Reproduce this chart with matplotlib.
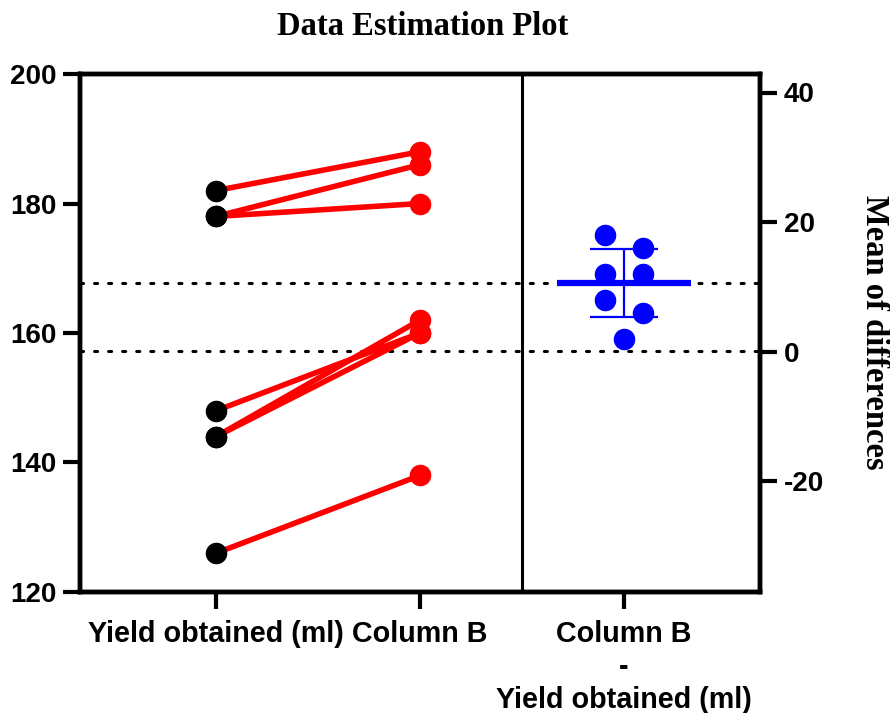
"""
Data Estimation Plot - pares antes/depois com diferenca media
"""

import matplotlib
matplotlib.use('Agg')
import matplotlib.pyplot as plt
import numpy as np

# Dados
grupos = ['Yield obtained (ml)', 'Column B']
rotulo_dif = 'Column B\n-\nYield obtained (ml)'
yield_obtido = [182, 178, 178, 148, 144, 144, 126]
coluna_b = [188, 186, 180, 160, 162, 160, 138]
ticks_esq = [120, 140, 160, 180, 200]
ticks_dir = [-20, 0, 20, 40]

# Estilo
SANS = 'Liberation Sans'
SERIF = 'Liberation Serif'
LW_EIXO = 3.2
VERMELHO = '#ff0000'
AZUL = '#0000ff'

a = np.array(yield_obtido, dtype=float)
b = np.array(coluna_b, dtype=float)
dif = b - a
media_a = a.mean()
media_b = b.mean()
media_dif = dif.mean()
# IC 95% da media das diferencas (t com 6 gl)
t_crit = 2.447
ic = t_crit * dif.std(ddof=1) / np.sqrt(len(dif))

fig = plt.figure(figsize=(8.9, 7.13), dpi=100)
ax = fig.add_axes([80/890, 1 - 592/713, 680/890, 518/713])
ax2 = ax.twinx()

ax.set_xlim(-2/3, 2 + 2/3)
ax.set_ylim(120, 200)
ax2.set_ylim(120 - media_a, 200 - media_a)

# linhas pontilhadas de referencia (media de cada grupo)
for yv in (media_a, media_b):
    ax.axhline(yv, color='black', lw=2.2, ls=(0, (1, 3.6)),
               dash_capstyle='round', zorder=1)

# divisoria
ax.axvline(1.5, color='black', lw=2.2, zorder=2)

# pares
for ya, yb in zip(a, b):
    ax.plot([0, 1], [ya, yb], color=VERMELHO, lw=4, zorder=3,
            solid_capstyle='round')
    ax.plot([1], [yb], 'o', color=VERMELHO, ms=14.5, zorder=4)
    ax.plot([0], [ya], 'o', color='black', ms=14.5, zorder=5)

# diferencas (enxame simples)
ordem = np.argsort(-dif)
lado = [-1, 1, -1, 1, -1, 1, 0]
desloc = 0.093
for k, i in enumerate(ordem):
    ax2.plot([2 + lado[k] * desloc], [dif[i]], 'o', color=AZUL, ms=14.5, zorder=4)

ax2.errorbar([2], [media_dif], yerr=[[ic], [ic]], fmt='none', ecolor=AZUL,
             elinewidth=1.6, capsize=24.5, capthick=1.6, zorder=5)
ax2.plot([2 - 0.33, 2 + 0.33], [media_dif, media_dif], color=AZUL, lw=4.5,
         solid_capstyle='butt', zorder=6)

# eixos
ax.set_xticks([0, 1, 2])
ax.set_xticklabels(grupos + [rotulo_dif], fontfamily=SANS, fontweight='bold',
                   fontsize=20.7, linespacing=1.24)
ax.set_yticks(ticks_esq)
ax.set_yticklabels([str(v) for v in ticks_esq], fontfamily=SANS,
                   fontweight='bold', fontsize=20)
ax2.set_yticks(ticks_dir)
ax2.set_yticklabels([str(v) for v in ticks_dir], fontfamily=SANS,
                    fontweight='bold', fontsize=20)

for eixo in (ax, ax2):
    for s in eixo.spines.values():
        s.set_linewidth(LW_EIXO)
ax.tick_params(axis='y', length=12, width=3, pad=5, direction='out')
ax.tick_params(axis='x', length=12, width=3, pad=8, direction='out')
ax2.tick_params(axis='y', length=12, width=3, pad=5, direction='out')

# titulo e rotulo do eixo direito
fig.text(423/890, 1 - 35/713, 'Data Estimation Plot', ha='center',
         va='baseline', fontsize=23.5, fontweight='bold', fontfamily=SERIF)
fig.text(875/890, 1 - 332/713, 'Mean of differences', ha='center',
         va='center', rotation=270, fontsize=23.5, fontweight='bold',
         fontfamily=SERIF)

fig.savefig('out.png', dpi=100, facecolor='white')
plt.close(fig)
